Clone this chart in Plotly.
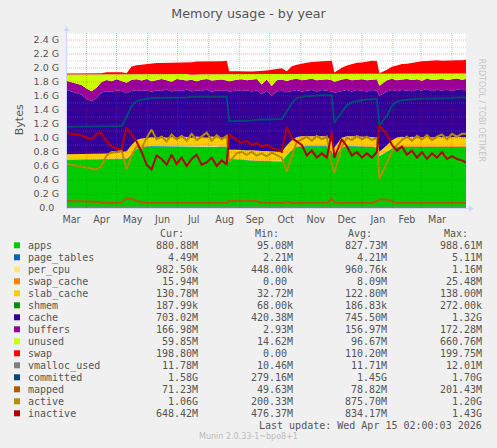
import plotly.graph_objects as go
import pandas as pd

# ---------------- data (GiB) ----------------
dates = list(pd.date_range("2025-03-12", periods=80, freq="5D")) + [pd.Timestamp("2026-04-15")]
# sample moments placed right after the three sharp drops seen in the picture
dates[33] = pd.Timestamp("2025-08-21 12:00")
dates[54] = pd.Timestamp("2025-12-04 12:00")
dates[63] = pd.Timestamp("2026-01-18 12:00")
small_idx = list(range(0, 81, 10))
dates_small = [dates[i] for i in small_idx]

apps = [0.69, 0.69, 0.69, 0.69, 0.69, 0.69, 0.69, 0.69, 0.69, 0.69, 0.69, 0.70,
        0.70, 0.76, 0.84, 0.87, 0.88, 0.88, 0.88, 0.88, 0.88, 0.88,
        0.88, 0.88, 0.88, 0.88, 0.88, 0.88, 0.88, 0.88, 0.88, 0.87, 0.87,
        0.70, 0.69, 0.69, 0.68, 0.68, 0.67, 0.67, 0.67, 0.66, 0.66, 0.66,
        0.75, 0.82, 0.87, 0.88, 0.88, 0.88, 0.88, 0.88, 0.88,
        0.80, 0.72, 0.86, 0.88, 0.88, 0.88, 0.87, 0.87, 0.87, 0.86,
        0.74, 0.80, 0.85, 0.87,
        0.87, 0.87, 0.87, 0.87, 0.87, 0.87, 0.87, 0.87, 0.87, 0.87, 0.87, 0.87, 0.87, 0.87]
page_tables = [0.0040, 0.0042, 0.0044, 0.0045, 0.0043, 0.0042, 0.0044, 0.0046, 0.0044]
per_cpu = [0.0009, 0.0009, 0.0010, 0.0009, 0.0009, 0.0010, 0.0009, 0.0010, 0.0009]
swap_cache = [0.002, 0.004, 0.008, 0.006, 0.009, 0.010, 0.009, 0.012, 0.0156]
slab_cache = [0.07, 0.07, 0.07, 0.07, 0.07, 0.07, 0.07, 0.08, 0.08, 0.08, 0.09, 0.09,
              0.10, 0.13, 0.12, 0.11, 0.11, 0.12, 0.11, 0.13, 0.11, 0.12,
              0.11, 0.13, 0.12, 0.11, 0.13, 0.12, 0.11, 0.13, 0.12, 0.12, 0.13,
              0.12, 0.13, 0.12, 0.13, 0.13, 0.13, 0.13, 0.13, 0.13, 0.13, 0.13,
              0.13, 0.13, 0.13, 0.13, 0.13, 0.13, 0.13, 0.13, 0.13,
              0.13, 0.13, 0.13, 0.13, 0.13, 0.13, 0.13, 0.13, 0.13, 0.13,
              0.05, 0.08, 0.10, 0.12,
              0.13, 0.12, 0.13, 0.12, 0.13, 0.13, 0.12, 0.13, 0.12, 0.13, 0.12, 0.13, 0.12, 0.12]
shmem = [0.00018, 0.00017, 0.00019, 0.00018, 0.00020, 0.00017, 0.00018, 0.00019, 0.00018]
cache = [0.92, 0.90, 0.88, 0.85, 0.79, 0.76, 0.80, 0.87, 0.89, 0.88, 0.89, 0.87,
         0.83, 0.77, 0.71, 0.68, 0.68, 0.65, 0.68, 0.65, 0.69, 0.65,
         0.68, 0.65, 0.68, 0.66, 0.66, 0.66, 0.69, 0.64, 0.67, 0.67, 0.67,
         0.83, 0.85, 0.85, 0.86, 0.84, 0.87, 0.81, 0.86, 0.80, 0.86, 0.87,
         0.76, 0.71, 0.67, 0.64, 0.65, 0.66, 0.64, 0.66, 0.65,
         0.72, 0.78, 0.67, 0.66, 0.64, 0.66, 0.66, 0.65, 0.67, 0.67,
         0.80, 0.77, 0.72, 0.66,
         0.67, 0.67, 0.65, 0.68, 0.66, 0.68, 0.66, 0.67, 0.67, 0.67, 0.66, 0.67, 0.67, 0.67]
buffers = [0.13, 0.13, 0.14, 0.14, 0.15, 0.14, 0.15, 0.15, 0.16, 0.15, 0.16, 0.15,
           0.15, 0.16, 0.16, 0.15, 0.16, 0.15, 0.15, 0.17, 0.13, 0.14,
           0.16, 0.16, 0.13, 0.17, 0.13, 0.16, 0.15, 0.16, 0.15, 0.165, 0.14,
           0.15, 0.15, 0.165, 0.14, 0.165, 0.16, 0.14, 0.16, 0.14, 0.16, 0.16,
           0.16, 0.16, 0.16, 0.16, 0.16, 0.16, 0.16, 0.15, 0.165,
           0.16, 0.16, 0.16, 0.16, 0.16, 0.15, 0.165, 0.16, 0.15, 0.165,
           0.14, 0.16, 0.16, 0.16,
           0.15, 0.165, 0.16, 0.15, 0.14, 0.15, 0.16, 0.15, 0.165, 0.14, 0.165, 0.16, 0.15, 0.16]
unused = [0.09, 0.11, 0.12, 0.15, 0.20, 0.24, 0.19, 0.11, 0.08, 0.10, 0.07, 0.09,
          0.12, 0.08, 0.07, 0.09, 0.07, 0.10, 0.08, 0.07, 0.09, 0.11,
          0.07, 0.08, 0.09, 0.07, 0.10, 0.08, 0.07, 0.09, 0.08, 0.07, 0.09,
          0.10, 0.08, 0.07, 0.09, 0.08, 0.07, 0.15, 0.08, 0.17, 0.09, 0.08,
          0.10, 0.08, 0.07, 0.09, 0.08, 0.07, 0.09, 0.08, 0.07,
          0.09, 0.11, 0.08, 0.07, 0.09, 0.08, 0.07, 0.09, 0.08, 0.07,
          0.17, 0.09, 0.07, 0.09,
          0.08, 0.07, 0.09, 0.08, 0.10, 0.07, 0.09, 0.08, 0.07, 0.09, 0.08, 0.07, 0.09, 0.08]
swap = [0.015, 0.015, 0.015, 0.015, 0.015, 0.015, 0.015, 0.015, 0.03, 0.03, 0.03, 0.03,
        0.015, 0.11, 0.13, 0.14, 0.15, 0.16, 0.16, 0.16, 0.16, 0.17,
        0.17, 0.17, 0.17, 0.18, 0.18, 0.18, 0.18, 0.19, 0.19, 0.19, 0.19,
        0.04, 0.04, 0.04, 0.04, 0.04, 0.04, 0.04, 0.05, 0.06, 0.07, 0.08,
        0.04, 0.11, 0.13, 0.15, 0.16, 0.17, 0.17, 0.18, 0.19,
        0.19, 0.02, 0.09, 0.12, 0.14, 0.16, 0.17, 0.18, 0.19, 0.19,
        0.01, 0.06, 0.10, 0.12,
        0.14, 0.15, 0.16, 0.17, 0.18, 0.18, 0.19, 0.19, 0.19, 0.19, 0.19, 0.19, 0.19, 0.195]
vmalloc_used = [0.0112, 0.0114, 0.0116, 0.0115, 0.0117, 0.0116, 0.0117, 0.0118, 0.0115]
committed = [1.16, 1.16, 1.16, 1.16, 1.16, 1.16, 1.16, 1.16, 1.16, 1.16, 1.16, 1.17,
             1.30, 1.46, 1.53, 1.55, 1.56, 1.57, 1.57, 1.57, 1.58, 1.58,
             1.58, 1.58, 1.58, 1.59, 1.59, 1.59, 1.59, 1.59, 1.59, 1.59, 1.59,
             1.24, 1.24, 1.25, 1.25, 1.25, 1.26, 1.26, 1.26, 1.27, 1.27, 1.27,
             1.38, 1.50, 1.57, 1.59, 1.60, 1.60, 1.61, 1.61, 1.61,
             1.61, 1.22, 1.38, 1.47, 1.51, 1.53, 1.54, 1.55, 1.56, 1.56,
             1.18, 1.32, 1.46, 1.52,
             1.54, 1.55, 1.55, 1.56, 1.56, 1.56, 1.57, 1.57, 1.57, 1.57, 1.57, 1.58, 1.58, 1.58]
mapped = [0.10, 0.10, 0.09, 0.09, 0.09, 0.09, 0.09, 0.08, 0.07, 0.07, 0.07, 0.08,
          0.14, 0.13, 0.10, 0.08, 0.07, 0.07, 0.07, 0.07, 0.07, 0.07,
          0.07, 0.07, 0.07, 0.07, 0.07, 0.07, 0.07, 0.07, 0.07, 0.07, 0.07,
          0.10, 0.10, 0.10, 0.10, 0.10, 0.10, 0.07, 0.07, 0.07, 0.07, 0.07,
          0.09, 0.07, 0.07, 0.07, 0.07, 0.07, 0.07, 0.07, 0.07,
          0.13, 0.08, 0.07, 0.07, 0.07, 0.07, 0.07, 0.07, 0.07, 0.10,
          0.12, 0.12, 0.10, 0.07,
          0.07, 0.07, 0.07, 0.07, 0.07, 0.07, 0.07, 0.07, 0.07, 0.07, 0.07, 0.07, 0.07, 0.07]
active = [0.63, 0.62, 0.61, 0.60, 0.58, 0.56, 0.55, 0.60, 0.75, 0.80, 0.80, 0.82,
          0.55, 0.75, 0.88, 0.85, 1.00, 1.12, 0.98, 1.02, 0.95, 1.05,
          0.98, 1.03, 0.96, 1.06, 0.97, 1.02, 1.08, 0.96, 1.04, 0.98, 1.03,
          0.66, 0.78, 0.80, 0.76, 0.80, 0.75, 0.78, 0.74, 0.79, 0.75, 0.72,
          0.52, 0.72, 0.95, 0.98, 1.02, 0.96, 1.03, 0.98, 1.02,
          0.62, 0.50, 0.88, 1.00, 0.97, 1.03, 0.98, 1.02, 0.97, 1.00,
          0.42, 0.64, 0.80, 0.90,
          0.97, 1.02, 0.96, 1.03, 0.98, 1.04, 0.97, 1.02, 1.05, 0.98, 1.06, 1.02, 1.06, 1.06]
inactive = [1.08, 1.05, 1.06, 1.03, 1.01, 0.98, 1.06, 1.07, 0.95, 0.88, 0.85, 0.84,
            1.15, 1.05, 0.95, 0.80, 0.62, 0.55, 0.75, 0.70, 0.62, 0.76,
            0.63, 0.72, 0.60, 0.70, 0.76, 0.62, 0.65, 0.72, 0.60, 0.68, 0.62,
            1.05, 0.97, 0.93, 0.96, 0.90, 0.93, 0.88, 0.90, 0.86, 0.84, 0.80,
            1.16, 1.00, 0.95, 0.90, 0.75, 0.82, 0.72, 0.78, 0.72,
            1.08, 0.72, 0.98, 0.88, 0.75, 0.80, 0.72, 0.78, 0.72, 0.80,
            1.18, 1.05, 0.90, 0.82,
            0.88, 0.76, 0.82, 0.72, 0.80, 0.70, 0.78, 0.72, 0.80, 0.70, 0.74, 0.70, 0.68, 0.65]

# legend table (text)
legend_names = ["apps", "page_tables", "per_cpu", "swap_cache", "slab_cache", "shmem", "cache",
                "buffers", "unused", "swap", "vmalloc_used", "committed", "mapped", "active", "inactive"]
legend_colors = ["#00CC00", "#0066B3", "#FFE680", "#FF8000", "#FFCC00", "#008F00", "#330099",
                 "#990099", "#CCFF00", "#FF0000", "#808080", "#00487D", "#B35A00", "#B38F00", "#B30000"]
NB = "\u00a0"
cur_vals = ["880.88M", "4.49M", "982.50k", "15.94M", "130.78M", "187.99k", "703.02M", "166.98M",
            "59.85M", "198.80M", "11.78M", "1.58G", "71.23M", "1.06G", "648.42M"]
min_vals = ["95.08M", "2.21M", "448.00k", "0.00" + NB, "32.72M", "68.00k", "420.38M", "2.93M",
            "14.62M", "0.00" + NB, "10.46M", "279.16M", "49.63M", "200.33M", "476.37M"]
avg_vals = ["827.73M", "4.21M", "960.76k", "8.09M", "122.80M", "186.83k", "745.50M", "156.97M",
            "96.67M", "110.20M", "11.71M", "1.45G", "78.82M", "875.70M", "834.17M"]
max_vals = ["988.61M", "5.11M", "1.16M", "25.48M", "138.00M", "272.00k", "1.32G", "172.28M",
            "660.76M", "199.75M", "12.01M", "1.70G", "201.43M", "1.20G", "1.43G"]

y_ticks = [0.0, 0.2, 0.4, 0.6, 0.8, 1.0, 1.2, 1.4, 1.6, 1.8, 2.0, 2.2, 2.4]
y_ticktext = ["0.0\u2002", "0.2 G", "0.4 G", "0.6 G", "0.8 G", "1.0 G", "1.2 G", "1.4 G",
              "1.6 G", "1.8 G", "2.0 G", "2.2 G", "2.4 G"]
month_labels = ["Mar", "Apr", "May", "Jun", "Jul", "Aug", "Sep", "Oct", "Nov", "Dec", "Jan", "Feb", "Mar"]
month_label_pos = ["2025-03-17", "2025-04-16", "2025-05-17", "2025-06-16", "2025-07-17", "2025-08-17",
                   "2025-09-16", "2025-10-17", "2025-11-16", "2025-12-17", "2026-01-17", "2026-02-15",
                   "2026-03-17"]
month_starts = ["2025-04-01", "2025-05-01", "2025-06-01", "2025-07-01", "2025-08-01", "2025-09-01",
                "2025-10-01", "2025-11-01", "2025-12-01", "2026-01-01", "2026-02-01", "2026-03-01",
                "2026-04-01"]

# ---------------- layout geometry ----------------
W, H = 497, 448
ML, MR, MT, MB = 67, 31, 33, 240
PW, PH = W - ML - MR, H - MT - MB


def px(x):
    return (x - ML) / PW


def py(y):
    return (H - MB - y) / PH


FONT = "DejaVu Sans"
MONO = "DejaVu Sans Mono"
TXT = "#555555"

fig = go.Figure()

stack = [
    ("apps", apps, "#00CC00", dates),
    ("page_tables", page_tables, "#0066B3", dates_small),
    ("per_cpu", per_cpu, "#FFE680", dates_small),
    ("swap_cache", swap_cache, "#FF8000", dates_small),
    ("slab_cache", slab_cache, "#FFCC00", dates),
    ("shmem", shmem, "#008F00", dates_small),
    ("cache", cache, "#330099", dates),
    ("buffers", buffers, "#990099", dates),
    ("unused", unused, "#CCFF00", dates),
    ("swap", swap, "#FF0000", dates),
]
for name, vals, col, xs in stack:
    fig.add_trace(go.Scatter(x=xs, y=vals, name=name, stackgroup="mem", stackgaps="interpolate",
                             mode="lines", line=dict(width=0, color=col), fillcolor=col,
                             hoverinfo="skip"))

lines = [
    ("vmalloc_used", vmalloc_used, "#808080", dates_small, 1.5),
    ("committed", committed, "#00487D", dates, 2),
    ("mapped", mapped, "#B35A00", dates, 2),
    ("active", active, "#B38F00", dates, 2),
    ("inactive", inactive, "#B30000", dates, 2),
]
for name, vals, col, xs, w in lines:
    fig.add_trace(go.Scatter(x=xs, y=vals, name=name, mode="lines",
                             line=dict(width=w, color=col), hoverinfo="skip"))

shapes = []
# grid (drawn above the areas, like rrdtool)
for k in range(1, 26):
    v = k / 10
    major = (k % 2 == 0) and k < 25
    shapes.append(dict(type="line", xref="paper", yref="y", x0=0, x1=1, y0=v, y1=v, layer="above",
                       line=dict(color="rgba(255,0,0,0.33)" if major else "rgba(128,128,128,0.33)",
                                 width=1, dash="1px,1px")))
for d in month_starts:
    shapes.append(dict(type="line", xref="x", yref="paper", x0=d, x1=d, y0=0, y1=1, layer="above",
                       line=dict(color="rgba(255,0,0,0.33)", width=1, dash="1px,1px")))
AX = "#CFD6F8"
shapes.append(dict(type="line", xref="paper", yref="paper", x0=px(66.5), x1=px(66.5), y0=py(208.5), y1=py(30),
                   layer="above", line=dict(color=AX, width=1)))
shapes.append(dict(type="line", xref="paper", yref="paper", x0=px(66), x1=px(470), y0=py(208.5), y1=py(208.5),
                   layer="above", line=dict(color=AX, width=1)))
shapes.append(dict(type="path", xref="paper", yref="paper", layer="above",
                   path=f"M {px(63.5)},{py(31)} L {px(66.5)},{py(26)} L {px(69.5)},{py(31)} Z",
                   fillcolor=AX, line=dict(color=AX, width=0)))
shapes.append(dict(type="path", xref="paper", yref="paper", layer="above",
                   path=f"M {px(469)},{py(205.5)} L {px(474)},{py(208.5)} L {px(469)},{py(211.5)} Z",
                   fillcolor=AX, line=dict(color=AX, width=0)))

annotations = []
# y axis title, side credit
annotations.append(dict(text="Bytes", x=px(10.7), y=py(120), xref="paper", yref="paper", showarrow=False,
                        textangle=-90, font=dict(family=FONT, size=11, color=TXT)))
annotations.append(dict(text="RRDTOOL / TOBI OETIKER", x=px(487.7), y=py(56.5), xref="paper", yref="paper",
                        showarrow=False, textangle=90, font=dict(family=FONT, size=8, color="#C4C4C4")))
# legend header
for txt, xr in zip(["Cur:", "Min:", "Avg:", "Max:"], [185.0, 280.0, 373.3, 469.3]):
    annotations.append(dict(text=txt, x=px(xr + 1), y=py(233.3), xref="paper", yref="paper", showarrow=False,
                            xanchor="right", yanchor="middle", font=dict(family=MONO, size=10, color=TXT)))
col_right = [199.3, 294.3, 388.3, 483.3]
for k, name in enumerate(legend_names):
    yc = 245.7 + 12 * k
    shapes.append(dict(type="rect", xref="paper", yref="paper", x0=px(14), x1=px(20),
                       y0=py(yc + 2.6), y1=py(yc - 3.4), fillcolor=legend_colors[k], line=dict(width=0)))
    annotations.append(dict(text=name, x=px(25.7), y=py(yc), xref="paper", yref="paper", showarrow=False,
                            xanchor="left", yanchor="middle", font=dict(family=MONO, size=10, color=TXT)))
    for vals, xr in zip([cur_vals, min_vals, avg_vals, max_vals], col_right):
        annotations.append(dict(text=vals[k], x=px(xr + 1), y=py(yc), xref="paper", yref="paper",
                                showarrow=False, xanchor="right", yanchor="middle",
                                font=dict(family=MONO, size=10, color=TXT)))
annotations.append(dict(text="Last update: Wed Apr 15 02:00:03 2026", x=px(484.3), y=py(425.7), xref="paper",
                        yref="paper", showarrow=False, xanchor="right", yanchor="middle",
                        font=dict(family=MONO, size=10, color=TXT)))
annotations.append(dict(text="Munin 2.0.33-1~bpo8+1", x=px(248), y=py(436.7), xref="paper", yref="paper",
                        showarrow=False, xanchor="center", yanchor="middle",
                        font=dict(family=FONT, size=8, color="#BBBBBB")))

fig.update_layout(
    width=W, height=H, autosize=False,
    margin=dict(l=ML, r=MR, t=MT, b=MB, pad=0),
    paper_bgcolor="#F0F0F0", plot_bgcolor="#FFFFFF",
    showlegend=False,
    title=dict(text="Memory usage - by year", x=0.5, xref="container", xanchor="center",
               y=1 - 14 / H, yref="container", yanchor="middle",
               font=dict(family=FONT, size=12.7, color=TXT)),
    xaxis=dict(type="date", range=["2025-03-12 12:00", "2026-04-15 00:00"], showgrid=False, zeroline=False,
               showline=False, tickvals=month_label_pos, ticktext=month_labels, ticks="outside", ticklen=2,
               tickcolor="rgba(0,0,0,0)", tickfont=dict(family=FONT, size=9.6, color=TXT)),
    yaxis=dict(range=[0, 2.5], showgrid=False, zeroline=False, showline=False, tickvals=y_ticks,
               ticktext=y_ticktext, ticks="outside", ticklen=5, tickcolor="rgba(0,0,0,0)",
               tickfont=dict(family=FONT, size=9.5, color=TXT)),
    shapes=shapes, annotations=annotations,
)

fig.write_html("out.html", config={"displayModeBar": False},
               post_script="document.body.style.margin='0';document.body.style.overflow='hidden';")
